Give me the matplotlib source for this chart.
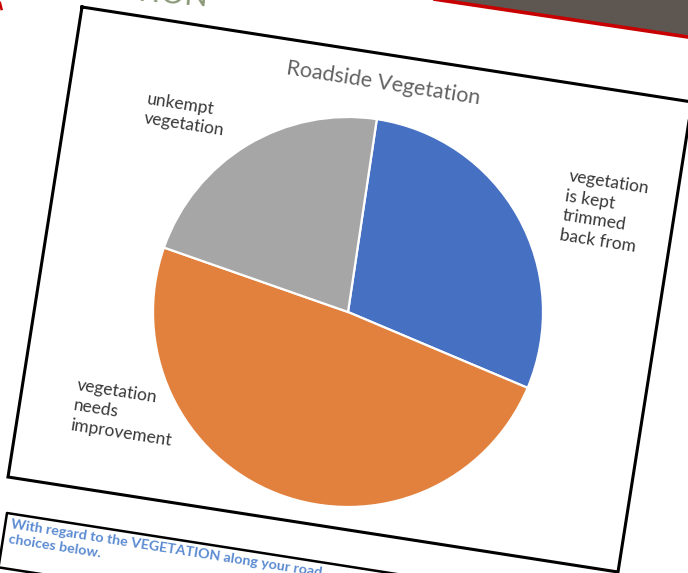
import matplotlib
matplotlib.use('Agg')
import matplotlib.pyplot as plt
from matplotlib.patches import Polygon
import numpy as np

# ---- data ----
categories = ['vegetation\nis kept\ntrimmed\nback from',
              'vegetation\nneeds\nimprovement',
              'unkempt\nvegetation']
values = [29, 49, 22]
colors = ['#4670C2', '#E2813E', '#A6A6A6']
title = 'Roadside Vegetation'
footer = 'With regard to the VEGETATION along your road\nchoices below.'
header = 'VEGETATION'

# ---- layout (image pixel coords, y down) ----
W, H = 688, 573
TILT = 8.9                      # photo is rotated clockwise by this many degrees
th = np.deg2rad(TILT)
c, s = np.cos(th), np.sin(th)

def Y(y):
    return H - y

plt.rcParams['font.family'] = ['Lato', 'DejaVu Sans']

fig = plt.figure(figsize=(6.88, 5.73), dpi=100)
ax = fig.add_axes([0, 0, 1, 1])

# dark header band with red edge (top right)
ax.add_patch(Polygon([(430, Y(-1.5)), (700, Y(38.8)), (700, Y(-5)), (430, Y(-5))],
                     closed=True, facecolor='#5E5650', edgecolor='none', zorder=1))
ax.plot([430, 700], [Y(-1.5), Y(38.8)], color='#C80000', lw=2.6, zorder=2,
        solid_capstyle='butt')
ax.plot([0, 1.5], [Y(3), Y(9)], color='#C80000', lw=1.8, zorder=2)

# slide header text, mostly cut off
ax.text(208, Y(7), header, ha='right', va='baseline', rotation=-5,
        rotation_mode='anchor', fontsize=22, color='#8A9878', zorder=2)

# chart frame
TL = (82, 7); BL = (8, 477); BR = (618, 572)
TR = (TL[0] + BR[0] - BL[0], TL[1] + BR[1] - BL[1])
fx = [TL[0], TR[0], BR[0], BL[0], TL[0]]
fy = [Y(TL[1]), Y(TR[1]), Y(BR[1]), Y(BL[1]), Y(TL[1])]
ax.plot(fx, fy, color='black', lw=2.2, zorder=3, solid_joinstyle='miter')

# footer box
bTL = (7, 513)
bh = 55
bBL = (bTL[0] - bh * s, bTL[1] + bh * c)
bTR = (bTL[0] + 800 * c, bTL[1] + 800 * s)
bBR = (bBL[0] + 800 * c, bBL[1] + 800 * s)
ax.plot([bTR[0], bTL[0], bBL[0], bBR[0]],
        [Y(bTR[1]), Y(bTL[1]), Y(bBL[1]), Y(bBR[1])],
        color='black', lw=1.8, zorder=3)
ax.text(12, Y(518), footer, ha='left', va='top', rotation=-TILT,
        rotation_mode='anchor', fontsize=10.3, fontweight='bold',
        color='#5B8BD1', linespacing=1.3, zorder=4)

# pie
center = (348, Y(312))
wedges, texts = ax.pie(values, colors=colors, startangle=90 - TILT + 0.4,
                       counterclock=False, center=center, radius=195,
                       labels=categories,
                       wedgeprops=dict(edgecolor='white', linewidth=1.6),
                       textprops=dict(fontsize=12.5, color='#383838'))
label_pos = [(604, 212), (124, 413), (186, 115)]
for t, (lx, ly) in zip(texts, label_pos):
    t.set_position((lx, Y(ly)))
    t.set_rotation(-TILT)
    t.set_rotation_mode('anchor')
    t.set_ha('center')
    t.set_va('center')
    t.set_multialignment('left')
    t.set_linespacing(1.3)

ax.text(383, Y(83), title, ha='center', va='center', rotation=-TILT,
        rotation_mode='anchor', fontsize=15.5, color='#626262', zorder=4)

ax.set_xlim(0, W)
ax.set_ylim(0, H)
ax.set_aspect('auto')
ax.axis('off')

fig.savefig('out.png', dpi=100, facecolor='white')
